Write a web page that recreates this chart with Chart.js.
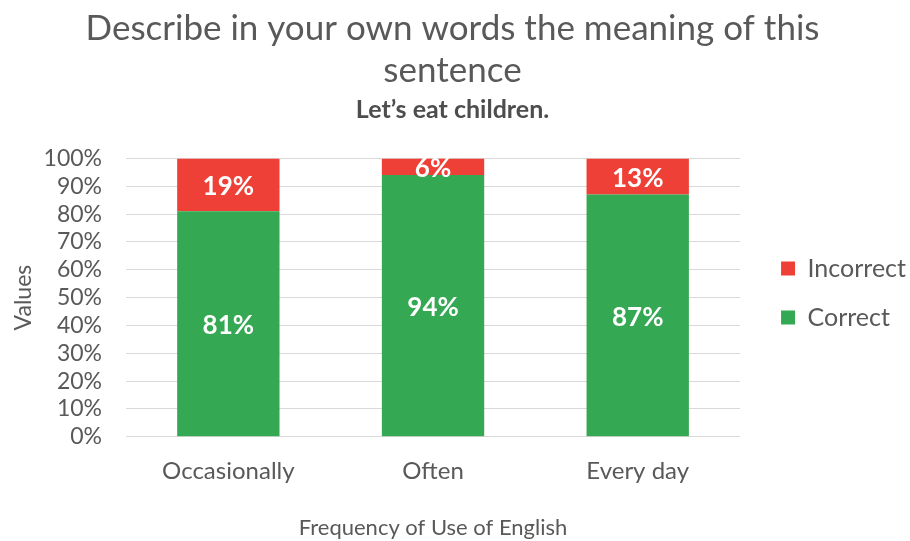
<!DOCTYPE html>
<html>
<head>
<meta charset="utf-8">
<script src="https://cdn.jsdelivr.net/npm/chart.js@4"></script>
<style>
  html, body { margin: 0; padding: 0; background: #fff; }
  #wrap { width: 910px; height: 541px; }
</style>
</head>
<body>
<div id="wrap"><canvas id="chart"></canvas></div>
<script>
/* ---------- data ---------- */
const categories = ["Occasionally", "Often", "Every day"];
const correct = [81, 94, 87];
const incorrect = [19, 6, 13];
const yTicks = [0, 10, 20, 30, 40, 50, 60, 70, 80, 90, 100];

const FONT = "Lato, 'Open Sans', sans-serif";
const GREY = "#595959";

/* ---------- value labels inside each segment ---------- */
const segmentLabels = {
  id: "segmentLabels",
  afterDatasetsDraw(chart) {
    const ctx = chart.ctx;
    ctx.save();
    ctx.fillStyle = "#ffffff";
    ctx.font = "bold 26px " + FONT;
    ctx.textAlign = "center";
    ctx.textBaseline = "middle";
    chart.data.datasets.forEach((ds, i) => {
      chart.getDatasetMeta(i).data.forEach((bar, j) => {
        const mid = (bar.y + bar.base) / 2;
        ctx.fillText(ds.data[j] + "%", bar.x, mid + 2);
      });
    });
    ctx.restore();
  }
};

/* ---------- nudge the legend block: a little right and lower ---------- */
const legendNudge = {
  id: "legendNudge",
  afterLayout(chart) {
    const lg = chart.legend;
    if (!lg) return;
    lg.left += 17;
    lg.right += 17;
    lg.top += 20;
    lg.bottom += 20;
  }
};

new Chart(document.getElementById("chart"), {
  type: "bar",
  data: {
    labels: categories,
    datasets: [
      { label: "Correct", data: correct, backgroundColor: "#34a853" },
      { label: "Incorrect", data: incorrect, backgroundColor: "#ee4036" }
    ]
  },
  options: {
    responsive: true,
    maintainAspectRatio: false,
    animation: false,
    layout: { padding: { left: 6, right: 11, top: 5, bottom: 0 } },
    categoryPercentage: 1,
    barPercentage: 0.5,
    plugins: {
      title: {
        display: true,
        text: ["Describe in your own words the meaning of this", "sentence"],
        color: GREY,
        font: { family: FONT, size: 35, weight: "normal", lineHeight: 1.22 },
        padding: { top: 2, bottom: 2 }
      },
      subtitle: {
        display: true,
        text: "Let’s eat children.",
        color: "#4d4d4d",
        font: { family: FONT, size: 25, weight: "bold" },
        padding: { top: 1, bottom: 33 }
      },
      legend: {
        position: "right",
        reverse: true,
        labels: {
          color: GREY,
          font: { family: FONT, size: 25 },
          boxWidth: 14,
          boxHeight: 14,
          padding: 24
        }
      },
      tooltip: { enabled: false }
    },
    scales: {
      x: {
        stacked: true,
        grid: { display: false },
        border: { display: false },
        ticks: { color: GREY, font: { family: FONT, size: 24 }, padding: 12 },
        title: {
          display: true,
          text: "Frequency of Use of English",
          color: GREY,
          font: { family: FONT, size: 22 },
          padding: { top: 17, bottom: 0 }
        }
      },
      y: {
        stacked: true,
        min: 0,
        max: 100,
        afterBuildTicks(axis) { axis.ticks = yTicks.map(v => ({ value: v })); },
        afterFit(axis) { axis.width = 120; },
        grid: { color: "#d9d9d9", drawTicks: false },
        border: { display: false },
        ticks: {
          color: GREY,
          font: { family: FONT, size: 23 },
          padding: 24,
          autoSkip: false,
          callback: v => v + "%"
        },
        title: {
          display: true,
          text: "Values",
          color: GREY,
          font: { family: FONT, size: 23 },
          padding: { bottom: 4 }
        }
      }
    }
  },
  plugins: [segmentLabels, legendNudge]
});
</script>
</body>
</html>
